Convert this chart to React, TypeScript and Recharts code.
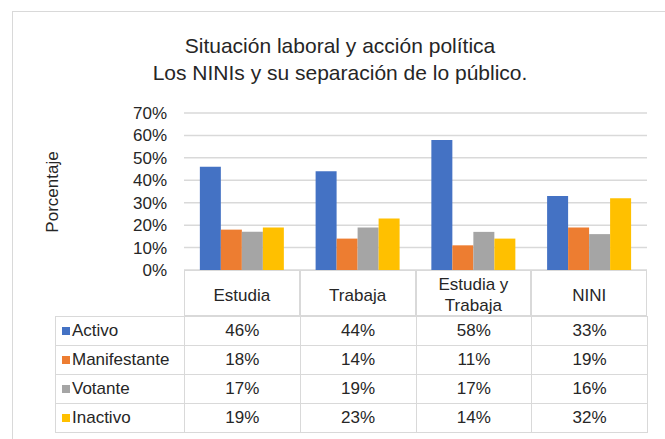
import React from "react";
import { BarChart, Bar, CartesianGrid, XAxis, YAxis } from "recharts";

const categories = ["Estudia", "Trabaja", "Estudia y Trabaja", "NINI"];
const seriesNames = ["Activo", "Manifestante", "Votante", "Inactivo"];
const activo = [0.46, 0.44, 0.58, 0.33];
const manifestante = [0.18, 0.14, 0.11, 0.19];
const votante = [0.17, 0.19, 0.17, 0.16];
const inactivo = [0.19, 0.23, 0.14, 0.32];
const yTicks = [0, 0.1, 0.2, 0.3, 0.4, 0.5, 0.6, 0.7];

const colors = ["#4472C4", "#ED7D31", "#A5A5A5", "#FFC000"];
const seriesValues = [activo, manifestante, votante, inactivo];

const data = categories.map((c, i) => ({
  name: c,
  Activo: activo[i],
  Manifestante: manifestante[i],
  Votante: votante[i],
  Inactivo: inactivo[i],
}));

const pct = (v: number) => `${Math.round(v * 100)}%`;

// layout
const W = 665;
const H = 439;
const plotLeft = 184;
const plotRight = 647;
const plotTop = 113;
const plotBottom = 270;
const yAxisW = 60;
const colW = (plotRight - plotLeft) / categories.length;
const headerH = 46;
const rowH = 29;
const tableLeft = 55;
const grid = "#d9d9d9";
const textColor = "#262626";
const font = "'Liberation Sans', Arial, sans-serif";

const App: React.FC = () => {
  return (
    <div
      style={{
        position: "absolute",
        left: 0,
        top: 0,
        width: W,
        height: H,
        background: "#fff",
        fontFamily: font,
        color: textColor,
        overflow: "hidden",
      }}
    >
      {/* marco del gráfico */}
      <div
        style={{
          position: "absolute",
          left: 12,
          top: 11,
          width: W,
          height: H,
          border: `1px solid ${grid}`,
          boxSizing: "border-box",
        }}
      />
      <div
        style={{
          position: "absolute",
          left: 0,
          top: 32,
          width: 680,
          textAlign: "center",
          fontSize: 21,
          lineHeight: "27px",
        }}
      >
        Situación laboral y acción política
        <br />
        Los NINIs y su separación de lo público.
      </div>
      <div
        style={{
          position: "absolute",
          left: 53,
          top: (plotTop + plotBottom) / 2,
          transform: "translate(-50%, -50%) rotate(-90deg)",
          fontSize: 17,
          whiteSpace: "nowrap",
        }}
      >
        Porcentaje
      </div>

      <div style={{ position: "absolute", left: 0, top: 0 }}>
        <BarChart
          width={W}
          height={H}
          data={data}
          margin={{
            top: plotTop,
            right: W - plotRight,
            bottom: H - plotBottom,
            left: plotLeft - yAxisW,
          }}
          barGap={0}
          barCategoryGap="13.7%"
        >
          <CartesianGrid vertical={false} stroke={grid} strokeWidth={1.5} />
          <XAxis dataKey="name" hide />
          <YAxis
            width={yAxisW}
            domain={[0, 0.7]}
            ticks={yTicks}
            interval={0}
            tickFormatter={pct}
            axisLine={false}
            tickLine={false}
            tickMargin={11}
            tick={{ fontSize: 17, fill: textColor, fontFamily: font }}
          />
          {seriesNames.map((s, i) => (
            <Bar key={s} dataKey={s} fill={colors[i]} isAnimationActive={false} />
          ))}
        </BarChart>
      </div>

      {/* tabla de datos */}
      {categories.map((c, i) => (
        <div
          key={c}
          style={{
            position: "absolute",
            left: plotLeft + i * colW,
            top: plotBottom,
            width: colW,
            height: headerH,
            border: `1px solid ${grid}`,
            boxSizing: "border-box",
            display: "flex",
            alignItems: "center",
            justifyContent: "center",
            textAlign: "center",
            fontSize: 17,
            lineHeight: "21px",
            padding: "4px 6px 0",
          }}
        >
          {c}
        </div>
      ))}
      {seriesNames.map((s, r) => (
        <React.Fragment key={s}>
          <div
            style={{
              position: "absolute",
              left: tableLeft,
              top: plotBottom + headerH + r * rowH,
              width: plotLeft - tableLeft + 1,
              height: rowH + 1,
              border: `1px solid ${grid}`,
              boxSizing: "border-box",
              display: "flex",
              alignItems: "center",
              fontSize: 17,
              whiteSpace: "nowrap",
            }}
          >
            <span
              style={{
                display: "inline-block",
                width: 8,
                height: 8,
                background: colors[r],
                marginLeft: 6,
                marginRight: 2,
              }}
            />
            {s}
          </div>
          {seriesValues[r].map((v, i) => (
            <div
              key={i}
              style={{
                position: "absolute",
                left: plotLeft + i * colW,
                top: plotBottom + headerH + r * rowH,
                width: colW + 1,
                height: rowH + 1,
                border: `1px solid ${grid}`,
                boxSizing: "border-box",
                display: "flex",
                alignItems: "center",
                justifyContent: "center",
                fontSize: 17,
              }}
            >
              {pct(v)}
            </div>
          ))}
        </React.Fragment>
      ))}
    </div>
  );
};

export default App;
